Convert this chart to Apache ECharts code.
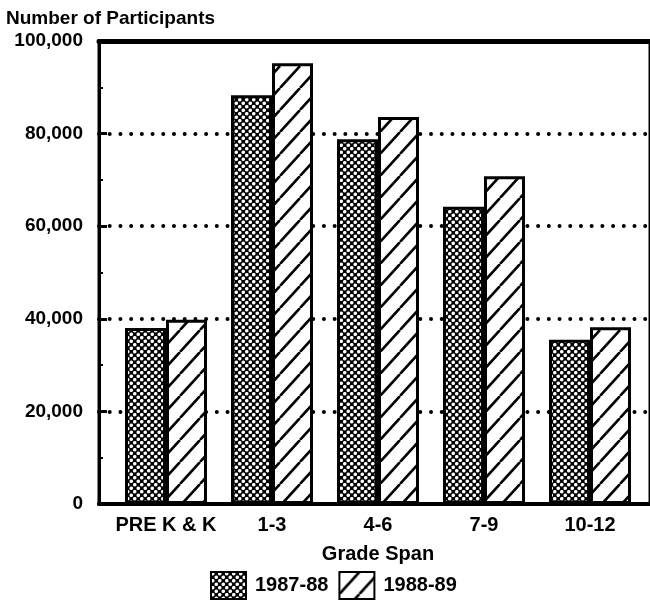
<!DOCTYPE html>
<html>
<head>
<meta charset="utf-8">
<script src="https://cdn.jsdelivr.net/npm/echarts@6/dist/echarts.min.js"></script>
<style>
  html, body { margin: 0; padding: 0; background: #fff; }
  #chart { width: 650px; height: 601px; }
</style>
</head>
<body>
<div id="chart"></div>
<script>
// data
var categories = ['PRE K & K', '1-3', '4-6', '7-9', '10-12'];
var seriesNames = ['1987-88', '1988-89'];
var values8788 = [38000, 88300, 78800, 64200, 35500];
var values8889 = [39800, 95200, 83600, 70800, 38200];
var yTicks = [0, 20000, 40000, 60000, 80000, 100000];

var FONT = 'Liberation Sans, Arial, Helvetica, sans-serif';

// dotted lattice fill (black with white dots)
function dotPattern() {
  var c = document.createElement('canvas');
  c.width = 7; c.height = 7;
  var ctx = c.getContext('2d');
  ctx.fillStyle = '#000';
  ctx.fillRect(0, 0, 7, 7);
  ctx.fillStyle = '#fff';
  [[1.75, 1.75], [5.25, 5.25]].forEach(function (p) {
    ctx.beginPath();
    ctx.arc(p[0], p[1], 1.8, 0, Math.PI * 2);
    ctx.fill();
  });
  return c;
}

// diagonal "/" hatch
function hatchPattern() {
  var w = 20, h = 22;
  var c = document.createElement('canvas');
  c.width = w; c.height = h;
  var ctx = c.getContext('2d');
  ctx.fillStyle = '#fff';
  ctx.fillRect(0, 0, w, h);
  ctx.strokeStyle = '#000';
  ctx.lineWidth = 2.6;
  for (var k = -1; k <= 1; k++) {
    ctx.beginPath();
    ctx.moveTo(k * w, h);
    ctx.lineTo(w + k * w, 0);
    ctx.stroke();
  }
  return c;
}

var chart = echarts.init(document.getElementById('chart'));

chart.setOption({
  animation: false,
  title: {
    text: 'Number of Participants',
    left: 1,
    top: 4,
    textStyle: { fontFamily: FONT, fontSize: 19, fontWeight: 'bold', color: '#000' }
  },
  legend: {
    data: seriesNames,
    left: 205,
    top: 566,
    icon: 'rect',
    itemWidth: 35,
    itemHeight: 27,
    itemGap: 10,
    textStyle: { fontFamily: FONT, fontSize: 20, fontWeight: 'bold', color: '#000', padding: [0, 0, 0, 4] }
  },
  grid: [
    // frame
    { left: 99, right: -6, top: 41, bottom: 97, show: true, borderColor: '#000', borderWidth: 3, backgroundColor: 'transparent' },
    // bars
    { left: 113, right: 7, top: 41, bottom: 97 }
  ],
  xAxis: [
    // thick bottom rule of the frame
    {
      gridIndex: 0, type: 'value', min: 0, max: 1, show: true,
      axisLine: { show: true, lineStyle: { color: '#000', width: 4 } },
      axisTick: { show: false }, axisLabel: { show: false }, splitLine: { show: false }
    },
    {
      gridIndex: 1,
      type: 'category',
      data: categories,
      name: 'Grade Span',
      nameLocation: 'middle',
      nameGap: 40,
      nameTextStyle: { fontFamily: FONT, fontSize: 20, fontWeight: 'bold', color: '#000' },
      axisLine: { show: false },
      axisTick: { show: false },
      axisLabel: { interval: 0, margin: 11, fontFamily: FONT, fontSize: 20, fontWeight: 'bold', color: '#000' }
    },
    // thick top rule of the frame
    {
      gridIndex: 0, type: 'value', position: 'top', min: 0, max: 1, show: true,
      axisLine: { show: true, lineStyle: { color: '#000', width: 5 } },
      axisTick: { show: false }, axisLabel: { show: false }, splitLine: { show: false }
    }
  ],
  yAxis: [
    {
      gridIndex: 0,
      type: 'value',
      min: 0,
      max: 100000,
      interval: 20000,
      axisLine: { show: true, lineStyle: { color: '#000', width: 3 } },
      axisTick: { show: true, inside: true, length: 8, lineStyle: { color: '#000', width: 3 } },
      minorTick: { show: true, splitNumber: 2, length: 4, lineStyle: { color: '#000', width: 2 } },
      axisLabel: {
        margin: 16,
        fontFamily: FONT, fontSize: 19, fontWeight: 'bold', color: '#000',
        formatter: function (v) {
          return yTicks.indexOf(v) >= 0 ? v.toLocaleString('en-US') : '';
        }
      },
      splitLine: {
        show: true,
        lineStyle: { color: '#000', width: 4, type: [0.01, 10.7], cap: 'round' }
      }
    },
    { gridIndex: 1, type: 'value', min: 0, max: 100000, show: false }
  ],
  series: [
    {
      name: seriesNames[0],
      type: 'bar',
      xAxisIndex: 1,
      yAxisIndex: 1,
      data: values8788,
      barWidth: 41,
      barGap: '0%',
      itemStyle: { color: { image: dotPattern(), repeat: 'repeat' }, borderColor: '#000', borderWidth: 3 }
    },
    {
      name: seriesNames[1],
      type: 'bar',
      xAxisIndex: 1,
      yAxisIndex: 1,
      data: values8889,
      barWidth: 41,
      barGap: '0%',
      itemStyle: { color: { image: hatchPattern(), repeat: 'repeat' }, borderColor: '#000', borderWidth: 3 }
    }
  ]
});
</script>
</body>
</html>
